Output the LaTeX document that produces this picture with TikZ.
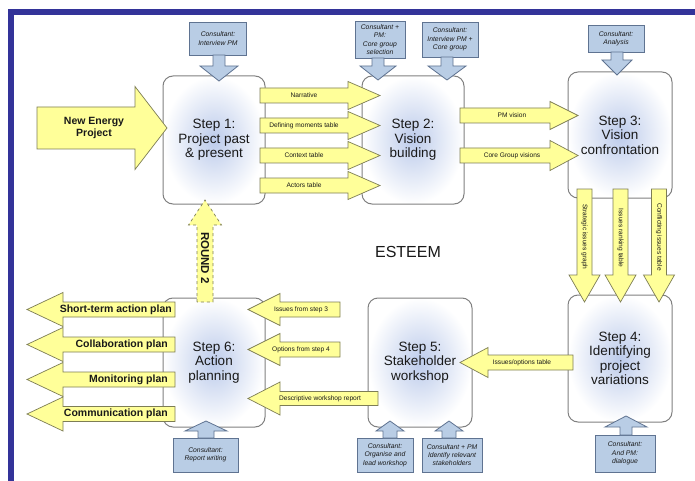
\documentclass[tikz,border=0pt]{standalone}
\usepackage{fontspec}
\setmainfont{Liberation Sans}
\definecolor{frameblue}{RGB}{51,51,153}
\definecolor{yfill}{RGB}{255,255,153}
\definecolor{yline}{RGB}{125,125,85}
\definecolor{cfill}{RGB}{185,205,229}
\definecolor{cline}{RGB}{95,115,145}
\definecolor{glow}{RGB}{188,203,235}
\definecolor{sline}{RGB}{128,128,128}
\definecolor{txt}{RGB}{25,25,25}
\newcommand\harrow[7]{\draw[#1] (#2,#5-#6) -- (#3,#5-#6) -- (#3,#5-#7) -- (#4,#5) -- (#3,#5+#7) -- (#3,#5+#6) -- (#2,#5+#6) -- cycle;}
\newcommand\varrow[7]{\draw[#1] (#5-#6,#2) -- (#5-#6,#3) -- (#5-#7,#3) -- (#5,#4) -- (#5+#7,#3) -- (#5+#6,#3) -- (#5+#6,#2) -- cycle;}
\tikzset{
  stepbox/.style={draw=sline, line width=1pt, rounded corners=10pt, shade, inner color=glow, outer color=white,
    inner sep=0pt, align=center, text=txt, font=\fontsize{13.5}{14.5}\selectfont},
  cbox/.style={draw=cline, fill=cfill, line width=0.8pt, inner sep=0pt, align=center, text=txt,
    font=\itshape\fontsize{6.8}{8.3}\selectfont},
  carrow/.style={draw=cline, fill=cfill, line width=0.8pt},
  yarrow/.style={draw=yline, fill=yfill, line width=0.7pt},
  ytext/.style={font=\fontsize{6.6}{7}\selectfont, text=txt, inner sep=0pt},
  btext/.style={font=\bfseries\fontsize{10.5}{12.5}\selectfont, text=txt, inner sep=0pt, align=center},
}
\begin{document}
\begin{tikzpicture}[x=1pt,y=-1pt]
\useasboundingbox (0,0) rectangle (695,481);
\fill[white] (0,0) rectangle (695,481);
% frame
\fill[frameblue] (8,9) rectangle (695,15);
\fill[frameblue] (8,9) rectangle (14,481);

% step boxes
\node[stepbox, minimum width=102pt, minimum height=128pt] (s1) at (214,140) {Step 1:\\Project past\\\& present};
\node[stepbox, minimum width=102pt, minimum height=128pt] (s2) at (413,140) {Step 2:\\Vision\\building};
\node[stepbox, minimum width=104pt, minimum height=126pt] (s3) at (620,135) {Step 3:\\Vision\\confrontation};
\node[stepbox, minimum width=104pt, minimum height=127pt] (s4) at (620,358.5) {Step 4:\\Identifying\\project\\variations};
\node[stepbox, minimum width=104pt, minimum height=129pt] (s5) at (420,362.5) {Step 5:\\Stakeholder\\workshop};
\node[stepbox, minimum width=102pt, minimum height=129pt] (s6) at (214,362.5) {Step 6:\\Action\\planning};

% consultant boxes
\node[cbox, minimum width=57pt, minimum height=33pt] (c1) at (218,38.5) {Consultant:\\Interview PM};
\node[cbox, minimum width=50pt, minimum height=37pt] (c2) at (380,39.5) {Consultant +\\PM:\\Core group\\selection};
\node[cbox, minimum width=56pt, minimum height=35pt] (c3) at (450,39.5) {Consultant:\\Interview PM +\\Core group};
\node[cbox, minimum width=56pt, minimum height=27pt] (c4) at (616,38.5) {Consultant:\\Analysis};
\node[cbox, minimum width=65pt, minimum height=34pt] (c5) at (205.5,455) {Consultant:\\Report writing};
\node[cbox, minimum width=56pt, minimum height=34pt] (c6) at (385,455) {Consultant:\\Organise and\\lead workshop};
\node[cbox, minimum width=60pt, minimum height=34pt] (c7) at (452,455) {Consultant + PM\\Identify relevant\\stakeholders};
\node[cbox, minimum width=60pt, minimum height=37pt] (c8) at (625,453.5) {Consultant:\\And PM:\\dialogue};

% consultant arrows
\varrow{carrow}{55}{66}{81}{219}{6}{19}
\varrow{carrow}{58}{66}{80}{378}{6}{18}
\varrow{carrow}{57}{66}{80}{447}{6}{19}
\varrow{carrow}{52}{60}{75}{617}{6}{15}
\varrow{carrow}{438}{431}{421}{206}{8}{21}
\varrow{carrow}{438}{431}{421}{390}{7}{14}
\varrow{carrow}{438}{431}{421}{449}{7}{14}
\varrow{carrow}{435}{427}{416}{626}{6}{21}

% New Energy Project
\harrow{yarrow}{37}{135}{167}{128}{21}{41.5}
\node[btext] (nep) at (94,128) {New Energy\\Project};

% step1 -> step2
\harrow{yarrow}{260}{348}{380}{95.5}{7.5}{14}
\harrow{yarrow}{260}{348}{380}{125.5}{7.5}{14}
\harrow{yarrow}{260}{348}{380}{155.5}{7.5}{14}
\harrow{yarrow}{260}{348}{380}{185.5}{7.5}{14}
\node[ytext] (t1) at (304,95.5) {Narrative};
\node[ytext] (t2) at (304,125.5) {Defining moments table};
\node[ytext] (t3) at (304,155.5) {Context table};
\node[ytext] (t4) at (304,185.5) {Actors table};

% step2 -> step3
\harrow{yarrow}{460}{550}{578}{115.5}{7.5}{14}
\harrow{yarrow}{460}{550}{578}{155.5}{7.5}{15}
\node[ytext] (t5) at (512,115.5) {PM vision};
\node[ytext] (t6) at (512,155.5) {Core Group visions};

% step3 -> step4
\varrow{yarrow}{189}{275}{302}{584.5}{7.5}{15.5}
\varrow{yarrow}{189}{275}{302}{620.5}{7.5}{15.5}
\varrow{yarrow}{189}{275}{302}{659}{7.5}{15.5}
\node[ytext, rotate=-90] (t7) at (584.5,237) {Strategic issues graph};
\node[ytext, rotate=-90] (t8) at (620.5,238) {Issues ranking table};
\node[ytext, rotate=-90] (t9) at (659,237) {Conflicting issues table};

% step4 -> step5
\harrow{yarrow}{573}{488}{460}{362.5}{7.5}{15}
\node[ytext] (t10) at (522,362.5) {Issues/options table};

% into step 6
\harrow{yarrow}{340}{280}{248}{309.5}{7.5}{16}
\harrow{yarrow}{340}{280}{248}{349.5}{7.5}{16}
\harrow{yarrow}{378}{280}{248}{398.5}{7}{16.5}
\node[ytext] (t11) at (301,309.5) {Issues from step 3};
\node[ytext] (t12) at (301,349.5) {Options from step 4};
\node[ytext] (t13) at (320,398.5) {Descriptive workshop report};

% outputs of step 6
\harrow{yarrow}{175}{63}{27}{309.5}{7.5}{17}
\harrow{yarrow}{175}{63}{27}{344.5}{7.5}{17}
\harrow{yarrow}{175}{63}{27}{379.5}{7.5}{17}
\harrow{yarrow}{175}{63}{27}{414}{7.5}{17}
\node[btext, anchor=east] (o1) at (172,309.5) {Short-term action plan};
\node[btext, anchor=east] (o2) at (168,344.5) {Collaboration plan};
\node[btext, anchor=east] (o3) at (168,379.5) {Monitoring plan};
\node[btext, anchor=east] (o4) at (168,414) {Communication plan};

% ROUND 2
\varrow{yarrow, dashed}{302}{225}{200}{205}{8}{16.5}
\node[btext, font=\bfseries\fontsize{11.5}{12.5}\selectfont, rotate=-90] (r2) at (205,258) {ROUND 2};

% title
\node[font=\fontsize{16}{18}\selectfont, text=txt] (esteem) at (408,252) {ESTEEM};
\end{tikzpicture}
\end{document}
